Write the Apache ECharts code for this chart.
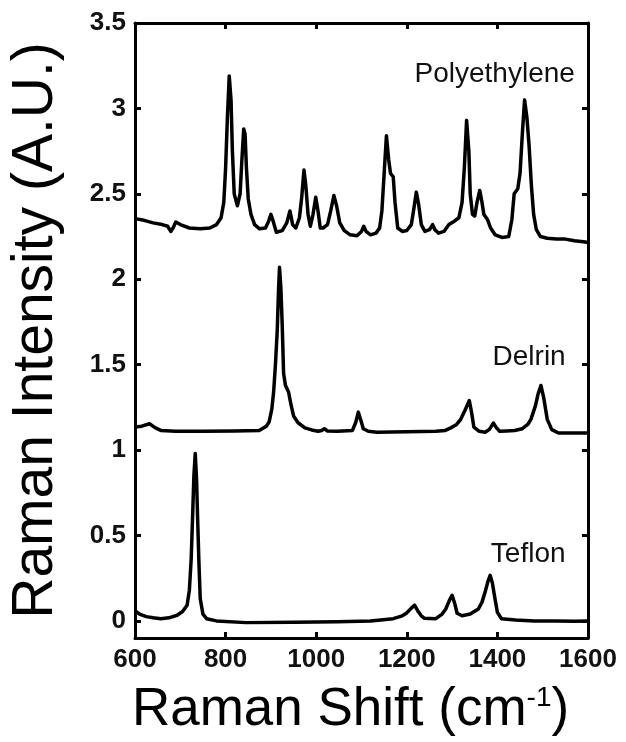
<!DOCTYPE html>
<html>
<head>
<meta charset="utf-8">
<script src="https://cdn.jsdelivr.net/npm/echarts@6/dist/echarts.min.js"></script>
<style>
  html, body { margin: 0; padding: 0; background: #fff; }
  #chart { width: 626px; height: 742px; }
</style>
</head>
<body>
<div id="chart"></div>
<script>
// 各样品的拉曼光谱
var polyethylene = [
  [600, 2.355], [620, 2.345], [640, 2.33], [660, 2.32], [672, 2.31], [679, 2.28], [684, 2.30],
  [690, 2.335], [700, 2.32], [720, 2.30], [744, 2.295], [765, 2.30], [780, 2.32], [790, 2.36],
  [796, 2.45], [800, 2.65], [804, 2.95], [808, 3.19], [812, 3.05], [815, 2.75], [819, 2.50],
  [826, 2.43], [832, 2.50], [836, 2.70], [840, 2.88], [843, 2.85], [846, 2.65], [850, 2.47],
  [856, 2.38], [864, 2.32], [875, 2.295], [888, 2.30], [895, 2.34], [900, 2.38], [905, 2.34],
  [912, 2.275], [925, 2.285], [935, 2.33], [942, 2.40], [948, 2.32], [955, 2.30], [963, 2.36],
  [968, 2.48], [973, 2.64], [977, 2.55], [982, 2.38], [987, 2.31], [993, 2.38], [999, 2.48],
  [1004, 2.40], [1009, 2.30], [1015, 2.30], [1025, 2.32], [1032, 2.40], [1039, 2.49], [1045, 2.43],
  [1052, 2.33], [1062, 2.285], [1075, 2.26], [1090, 2.255], [1100, 2.28], [1105, 2.31], [1110, 2.28],
  [1120, 2.26], [1132, 2.27], [1140, 2.30], [1145, 2.40], [1150, 2.62], [1155, 2.84], [1160, 2.70],
  [1164, 2.62], [1170, 2.60], [1174, 2.45], [1180, 2.30], [1190, 2.28], [1200, 2.285], [1210, 2.32],
  [1216, 2.42], [1221, 2.51], [1226, 2.44], [1232, 2.32], [1240, 2.28], [1250, 2.29], [1257, 2.32],
  [1262, 2.29], [1270, 2.27], [1282, 2.28], [1293, 2.32], [1305, 2.34], [1315, 2.36], [1322, 2.45],
  [1327, 2.65], [1332, 2.93], [1337, 2.75], [1340, 2.50], [1345, 2.38], [1350, 2.37], [1355, 2.45],
  [1361, 2.52], [1366, 2.45], [1370, 2.38], [1378, 2.35], [1385, 2.30], [1395, 2.26], [1410, 2.245],
  [1425, 2.25], [1432, 2.35], [1437, 2.50], [1445, 2.53], [1450, 2.62], [1455, 2.85], [1460, 3.05],
  [1465, 2.95], [1470, 2.78], [1475, 2.55], [1480, 2.38], [1486, 2.29], [1495, 2.25], [1510, 2.24],
  [1530, 2.235], [1550, 2.235], [1570, 2.225], [1590, 2.22], [1600, 2.215]
];

var delrin = [
  [600, 1.135], [615, 1.14], [632, 1.154], [645, 1.13], [657, 1.115], [690, 1.11], [750, 1.11],
  [820, 1.112], [874, 1.115], [890, 1.14], [896, 1.164], [902, 1.24], [906, 1.34], [910, 1.50],
  [914, 1.70], [917, 1.95], [919, 2.07], [922, 1.95], [925, 1.73], [928, 1.45], [932, 1.38],
  [939, 1.34], [944, 1.27], [950, 1.20], [960, 1.16], [975, 1.13], [990, 1.118], [1004, 1.11],
  [1012, 1.115], [1018, 1.125], [1025, 1.112], [1047, 1.11], [1080, 1.115], [1087, 1.16], [1093, 1.222],
  [1099, 1.17], [1104, 1.125], [1115, 1.11], [1134, 1.105], [1200, 1.108], [1264, 1.11], [1285, 1.115],
  [1297, 1.13], [1310, 1.15], [1319, 1.18], [1328, 1.23], [1338, 1.29], [1343, 1.22], [1348, 1.135],
  [1360, 1.11], [1373, 1.105], [1382, 1.12], [1391, 1.158], [1398, 1.13], [1405, 1.11], [1420, 1.112],
  [1438, 1.115], [1455, 1.125], [1467, 1.15], [1474, 1.18], [1484, 1.26], [1490, 1.33], [1496, 1.378],
  [1502, 1.31], [1510, 1.18], [1520, 1.12], [1535, 1.10], [1560, 1.10], [1580, 1.10], [1600, 1.10]
];

var teflon = [
  [600, 0.06], [610, 0.04], [625, 0.025], [640, 0.018], [657, 0.013], [675, 0.018], [693, 0.033],
  [705, 0.055], [715, 0.092], [720, 0.18], [724, 0.36], [727, 0.60], [730, 0.85], [733, 0.98],
  [736, 0.82], [738, 0.62], [741, 0.35], [744, 0.13], [750, 0.04], [758, 0.013], [780, 0.0],
  [845, -0.01], [950, -0.008], [1047, -0.005], [1120, 0.0], [1170, 0.013], [1190, 0.03],
  [1199, 0.045], [1210, 0.075], [1217, 0.092], [1224, 0.06], [1232, 0.03], [1239, 0.015],
  [1264, 0.013], [1278, 0.04], [1286, 0.07], [1294, 0.12], [1300, 0.15], [1306, 0.10], [1311, 0.045],
  [1322, 0.03], [1340, 0.04], [1358, 0.07], [1366, 0.11], [1373, 0.17], [1379, 0.23], [1384, 0.267],
  [1389, 0.22], [1394, 0.14], [1400, 0.05], [1409, 0.013], [1440, 0.005], [1481, 0.0],
  [1530, 0.0], [1570, -0.002], [1600, 0.0]
];

// 坐标轴刻度
var xTicks = [600, 800, 1000, 1200, 1400, 1600];
var yTicks = [0, 0.5, 1, 1.5, 2, 2.5, 3, 3.5];

// 样品名称及标注位置（数据坐标）
var sampleNames = ['Polyethylene', 'Delrin', 'Teflon'];
var labelCoords = [[1394, 3.20], [1470, 1.544], [1468, 0.39]];

var chart = echarts.init(document.getElementById('chart'));

var fontFamily = 'Arial, "Liberation Sans", sans-serif';

// 上、右两条边框轴（只画刻度）
function frameAxis(position, isX) {
  return {
    type: 'value',
    position: position,
    min: isX ? xTicks[0] : -0.1,
    max: isX ? xTicks[xTicks.length - 1] : 3.5,
    interval: isX ? 200 : undefined,
    axisLine: { show: true, onZero: false, lineStyle: { color: '#000', width: 3 } },
    axisTick: isX ? { show: true, inside: true, length: 6, lineStyle: { color: '#000', width: 3 } }
                  : { show: true, inside: true, length: 6, customValues: yTicks, lineStyle: { color: '#000', width: 3 } },
    axisLabel: { show: false },
    splitLine: { show: false }
  };
}

var option = {
  animation: false,
  backgroundColor: '#fff',
  grid: { left: 127, right: 38, top: 23, bottom: 104 },
  xAxis: [{
    type: 'value',
    position: 'bottom',
    min: 600,
    max: 1600,
    interval: 200,
    name: 'Raman Shift (cm{sup|-1})',
    nameLocation: 'middle',
    nameGap: 46,
    nameTextStyle: {
      fontFamily: fontFamily,
      fontSize: 53,
      color: '#000',
      verticalAlign: 'top',
      padding: [0, 22, 0, 0],
      rich: {
        sup: { fontFamily: fontFamily, fontSize: 28, color: '#000', verticalAlign: 'top' }
      }
    },
    axisLine: { show: true, onZero: false, lineStyle: { color: '#000', width: 3 } },
    axisTick: { show: true, inside: true, length: 6, lineStyle: { color: '#000', width: 3 } },
    axisLabel: {
      margin: 9,
      fontFamily: fontFamily,
      fontSize: 26,
      fontWeight: 'bold',
      color: '#111',
      showMinLabel: true,
      showMaxLabel: true,
      formatter: function (v) { return String(v); }
    },
    splitLine: { show: false }
  }, frameAxis('top', true)],
  yAxis: [{
    type: 'value',
    position: 'left',
    min: -0.1,
    max: 3.5,
    name: 'Raman Intensity (A.U.)',
    nameLocation: 'middle',
    nameRotate: 90,
    nameGap: 70,
    nameTextStyle: { fontFamily: fontFamily, fontSize: 57, color: '#000' },
    axisLine: { show: true, onZero: false, lineStyle: { color: '#000', width: 3 } },
    axisTick: { show: true, inside: true, length: 6, customValues: yTicks, lineStyle: { color: '#000', width: 3 } },
    axisLabel: {
      margin: 9,
      fontFamily: fontFamily,
      fontSize: 26,
      fontWeight: 'bold',
      color: '#111',
      customValues: yTicks
    },
    splitLine: { show: false }
  }, frameAxis('right', false)],
  series: [polyethylene, delrin, teflon].map(function (data, i) {
    return {
      name: sampleNames[i],
      type: 'line',
      xAxisIndex: 0,
      yAxisIndex: 0,
      data: data,
      showSymbol: false,
      lineStyle: { color: '#000', width: 3.5, join: 'round' },
      markPoint: {
        symbol: 'circle',
        symbolSize: 0,
        label: {
          show: true,
          position: 'inside',
          formatter: sampleNames[i],
          fontFamily: fontFamily,
          fontSize: 28,
          color: '#111'
        },
        data: [{ coord: labelCoords[i] }]
      }
    };
  })
};

chart.setOption(option);
</script>
</body>
</html>
